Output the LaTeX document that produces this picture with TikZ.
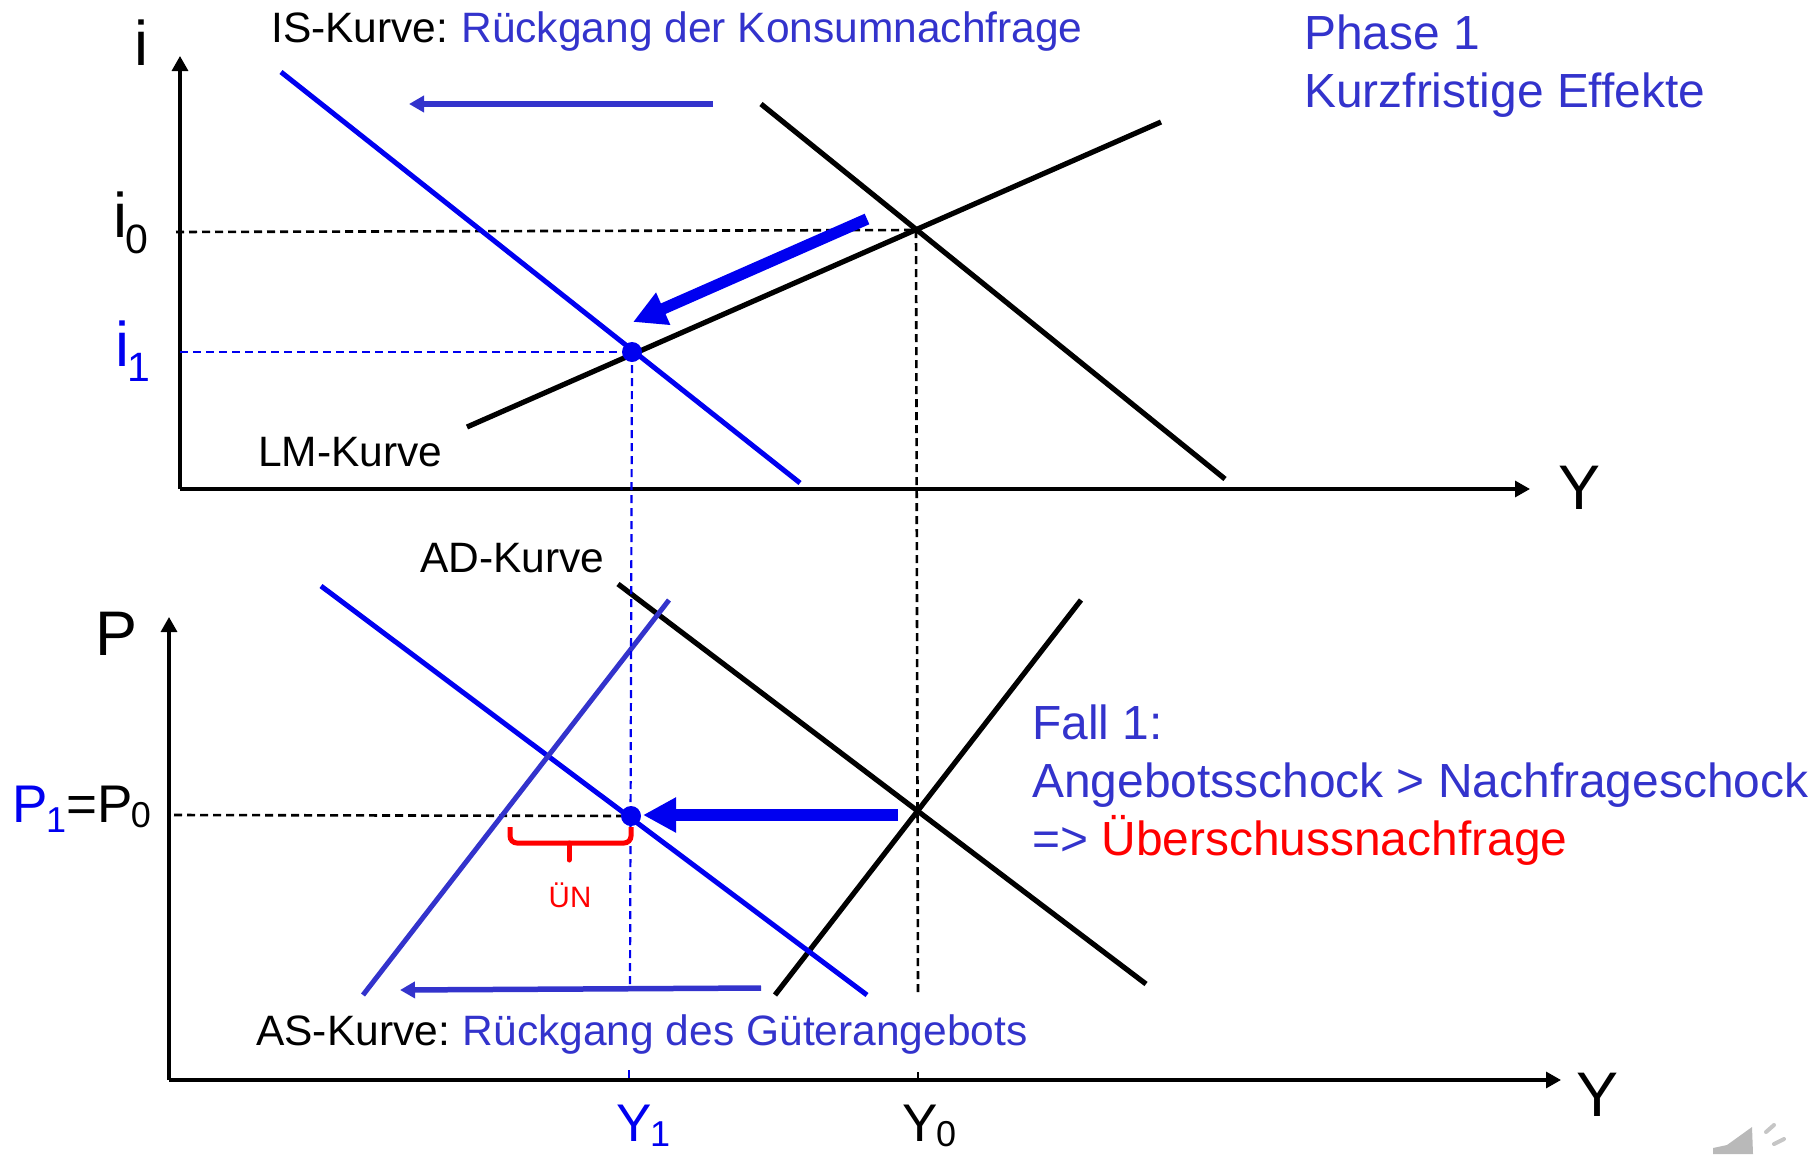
\documentclass[tikz,border=0pt]{standalone}
\usepackage{fontspec}
\setmainfont{Liberation Sans}
\usetikzlibrary{arrows.meta}
\definecolor{curveblue}{HTML}{0000F0}
\definecolor{noteblue}{HTML}{3333CC}
\definecolor{noisered}{HTML}{FF0000}
\newcommand{\fsz}[1]{\fontsize{#1}{#1}\selectfont}
\newcommand{\subidx}[3]{\kern-1.5pt\raisebox{-#1pt}{\fsz{#2}#3}}

\begin{document}
\begin{tikzpicture}[
    x=1pt, y=-1pt,
    axisline/.style={-{Triangle[length=15pt,width=16pt]}, line width=3.2pt, black},
    blackcurve/.style={line width=5.2pt, black},
    bluecurve/.style={line width=5pt, curveblue},
    shiftcurve/.style={line width=5pt, noteblue},
    guideblack/.style={dashed, dash pattern=on 8pt off 5pt, line width=2.6pt, black},
    guideblue/.style={dashed, dash pattern=on 8pt off 5pt, line width=2.2pt, curveblue},
    bigarrow/.style={-{Triangle[length=33pt,width=33pt]}, line width=11.5pt, curveblue},
    shiftarrow/.style={-{Triangle[length=15pt,width=16pt]}, line width=5.5pt, noteblue},
    lbl/.style={anchor=base west, inner sep=0pt, font=\fsz{42.5}},
    bigsym/.style={anchor=base west, inner sep=0pt, font=\fsz{63}},
    note/.style={anchor=base west, inner sep=0pt, font=\fsz{47.9}, text=noteblue},
    eqdot/.style={circle, fill=curveblue, inner sep=0pt, minimum size=20pt}
]
    \useasboundingbox (0,0) rectangle (1820,1154);

    % ---- named points, upper panel ----
    \coordinate (iorigin) at (180,489);
    \coordinate (itop)    at (180,56);
    \coordinate (iend)    at (1530,489);
    \coordinate (E0)      at (916,230);
    \coordinate (E1)      at (632,352);
    \coordinate (izero)   at (176,232);
    \coordinate (ione)    at (180,352);

    % ---- named points, lower panel ----
    \coordinate (Porigin) at (169,1080);
    \coordinate (Ptop)    at (169,617);
    \coordinate (Pend)    at (1561,1080);
    \coordinate (F0)      at (918,811);
    \coordinate (F1)      at (631,816);
    \coordinate (Pzero)   at (174,815);

    % ================= upper panel =================
    \draw[axisline] (iorigin) -- (itop);
    \draw[axisline] (iorigin) -- (iend);
    \draw[guideblack] (izero) -- (E0);
    \draw[guideblue]  (ione) -- (E1);
    \draw[blackcurve] (761,104) -- (1225,479);
    \draw[blackcurve] (467,427) -- (1161,122);
    \draw[bluecurve]  (281,72) -- (800,483);
    \draw[shiftarrow] (713,104) -- (409,104);
    \draw[bigarrow]   (867,219) -- (633,322);
    \node[eqdot] (dotup) at (E1) {};

    % ================= lower panel =================
    \draw[axisline] (Porigin) -- (Ptop);
    \draw[axisline] (Porigin) -- (Pend);
    \draw[guideblack] (Pzero) -- (F1);
    \draw[blackcurve] (618,584) -- (1146,984);
    \draw[blackcurve] (1081,600) -- (775,995);
    \draw[bluecurve]  (321,586) -- (867,995);
    \draw[shiftcurve] (669,600) -- (363,995);
    \draw[shiftarrow] (761,988) -- (400,990);
    \draw[bigarrow]   (898,815) -- (643,815);
    \node[eqdot] (dotlow) at (F1) {};

    % ---- guide lines between the panels ----
    \draw[guideblack] (E0) -- (918,995);
    \draw[guideblack] (918,1072) -- (918,1080);
    \draw[guideblue]  (E1) -- (630,987);
    \draw[guideblue]  (629,1070) -- (629,1080);

    % ---- excess demand brace ----
    \draw[noisered, line width=5pt, rounded corners=7pt] (510,827) -- (510,843) -- (631,843) -- (631,827);
    \draw[noisered, line width=5pt, line cap=round] (569,843) -- (569,860);
    \node[inner sep=0pt, anchor=base, font=\fsz{29.5}, text=noisered] (un) at (570,907) {ÜN};

    % ---- axis letters ----
    \node[bigsym] (ilabel) at (134,65) {i};
    \node[bigsym] (izerolabel) at (113,237) {i\subidx{16}{41}{0}};
    \node[bigsym, text=curveblue] (ionelabel) at (115,366) {i\subidx{15}{41}{1}};
    \node[bigsym] (Yup) at (1558,509) {Y};
    \node[bigsym] (Plabel) at (95,655) {P};
    \node[bigsym] (Ylow) at (1576,1116) {Y};
    \node[anchor=base west, inner sep=0pt, font=\fsz{53}] (Plevel) at (12,822)
        {\textcolor{curveblue}{P\subidx{10}{36}{1}}=P\subidx{5}{36}{0}};
    \node[anchor=base west, inner sep=0pt, font=\fsz{53}, text=curveblue] (Yone) at (616,1141) {Y\subidx{5}{36}{1}};
    \node[anchor=base west, inner sep=0pt, font=\fsz{53}] (Yzero) at (902,1141) {Y\subidx{5}{36}{0}};

    % ---- curve labels ----
    \node[lbl] (islabel) at (271,42) {IS-Kurve:\kern13pt\textcolor{noteblue}{Rückgang der Konsumnachfrage}};
    \node[lbl] (lmlabel) at (258,466) {LM-Kurve};
    \node[lbl] (adlabel) at (420,572) {AD-Kurve};
    \node[lbl] (aslabel) at (256,1045) {AS-Kurve:\kern13pt\textcolor{noteblue}{Rückgang des Güterangebots}};

    % ---- notes on the right ----
    \node[note] (phase) at (1304,49) {Phase 1};
    \node[note] (effekt) at (1304,107) {Kurzfristige Effekte};
    \node[note] (fall) at (1032,739) {Fall 1:};
    \node[note] (schock) at (1032,797) {Angebotsschock > Nachfrageschock};
    \node[note] (ueber) at (1032,855) {=> \textcolor{noisered}{Überschussnachfrage}};

    % ---- speaker mark ----
    \fill[gray!55] (1713,1148) -- (1727,1145) -- (1752,1127) -- (1753,1154) -- (1713,1154) -- cycle;
    \draw[gray!45, line width=4pt, line cap=round] (1766,1132) -- (1774,1125);
    \draw[gray!45, line width=4pt, line cap=round] (1774,1144) -- (1784,1139);
\end{tikzpicture}
\end{document}
